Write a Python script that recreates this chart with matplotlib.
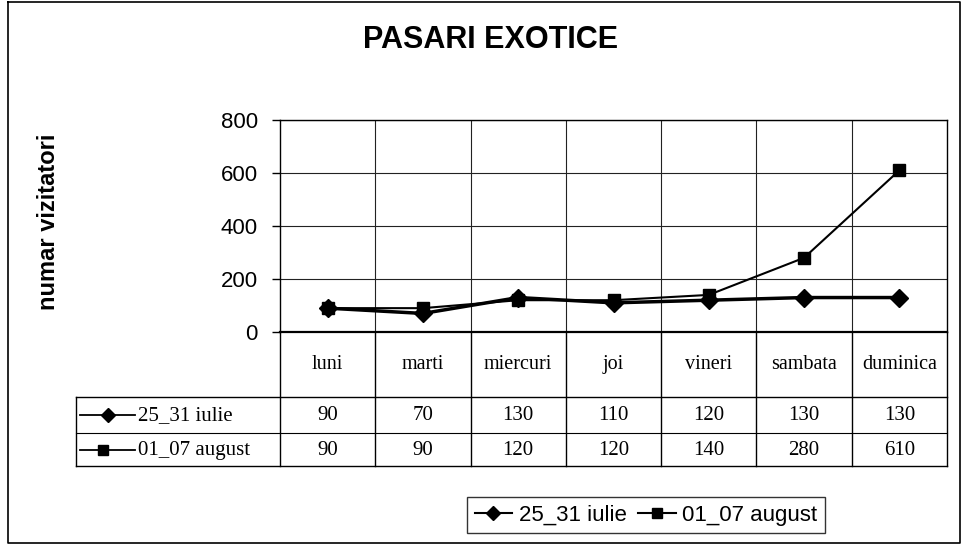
import numpy as np
import matplotlib.pyplot as plt
from matplotlib.lines import Line2D

W, H = 964, 552

# Data
days = ['luni', 'marti', 'miercuri', 'joi', 'vineri', 'sambata', 'duminica']
series_names = ['25_31 iulie', '01_07 august']
iulie = [90, 70, 130, 110, 120, 130, 130]
august = [90, 90, 120, 120, 140, 280, 610]
y_ticks = [0, 200, 400, 600, 800]

SANS = ['Liberation Sans', 'DejaVu Sans']
SERIF = ['Liberation Serif', 'DejaVu Serif']
plt.rcParams['font.family'] = SANS

# plot area in pixels
PX0, PX1 = 280, 947
PY0, PY1 = 120, 332


def fx(px):
    return px / W


def fy(py):
    return 1 - py / H


fig = plt.figure(figsize=(W / 100, H / 100), dpi=100)

# canvas axes in pixel coordinates for frame and data table
cv = fig.add_axes([0, 0, 1, 1])
cv.set_xlim(0, W)
cv.set_ylim(H, 0)
cv.axis('off')

ax = fig.add_axes([fx(PX0), fy(PY1), (PX1 - PX0) / W, (PY1 - PY0) / H])
x = np.arange(len(days))
ax.plot(x, iulie, color='black', lw=2.5, marker='D', ms=9, zorder=3)
ax.plot(x, august, color='black', lw=1.5, marker='s', ms=8, zorder=3)
ax.set_xlim(-0.5, len(days) - 0.5)
ax.set_ylim(0, 800)
ax.set_yticks(y_ticks)
ax.set_xticks(x[:-1] + 0.5)
ax.tick_params(axis='x', length=0, labelbottom=False)
ax.tick_params(axis='y', labelsize=16, length=6, pad=10, width=1)
ax.grid(True, color='#222222', lw=0.8)
for s in ax.spines.values():
    s.set_color('black')
    s.set_linewidth(1)
ax.spines['bottom'].set_linewidth(1.6)
ax.set_facecolor('none')

# title and axis label
fig.text(fx(491), fy(40), 'PASARI EXOTICE', ha='center', va='center',
         fontsize=22, fontweight='bold')
fig.text(fx(49), fy(222), 'numar vizitatori', ha='center', va='center',
         rotation=90, fontsize=17, fontweight='bold')

# outer frame
cv.plot([8, 960, 960, 8, 8], [2, 2, 543, 543, 2], color='black', lw=1.2)

# data table
col_w = (PX1 - PX0) / len(days)
edges = [PX0 + col_w * k for k in range(len(days) + 1)]
TL = 76
RH = [PY1, 397, 433, 466]
lk = dict(color='black', lw=1)
for e in edges:
    cv.plot([e, e], [PY1, RH[3]], **lk)
cv.plot([TL, TL], [RH[1], RH[3]], **lk)
cv.plot([TL, PX1], [RH[1], RH[1]], **lk)
cv.plot([TL, PX1], [RH[2], RH[2]], color='black', lw=0.8)
cv.plot([TL, PX1], [RH[3], RH[3]], **lk)

hy = (RH[0] + RH[1]) / 2
for i, d in enumerate(days):
    cx = (edges[i] + edges[i + 1]) / 2
    cv.text(cx, hy, d, ha='center', va='center', fontsize=14.5, family=SERIF)

rows = [iulie, august]
markers = ['D', 's']
mk_x = [108, 103]
for r, vals in enumerate(rows):
    cy = (RH[r + 1] + RH[r + 2]) / 2
    cv.plot([80, 135], [cy, cy], color='black', lw=1.3)
    cv.plot([mk_x[r]], [cy], marker=markers[r], color='black', ms=7)
    cv.text(138, cy + 1, series_names[r], ha='left', va='center', fontsize=15,
            family=SERIF)
    for i, v in enumerate(vals):
        cx = (edges[i] + edges[i + 1]) / 2
        cv.text(cx, cy + 1, str(v), ha='center', va='center', fontsize=15,
                family=SERIF)

# legend
handles = [Line2D([], [], color='black', lw=1.5, marker=m, ms=7) for m in markers]
leg = fig.legend(handles, series_names, loc='center',
                 bbox_to_anchor=(fx(646), fy(515)), ncol=2, frameon=True,
                 fancybox=False, edgecolor='black', fontsize=16,
                 handlelength=1.7, columnspacing=0.5, handletextpad=0.3,
                 borderpad=0.35)
leg.get_frame().set_linewidth(1)

fig.savefig('out.png', dpi=100)
